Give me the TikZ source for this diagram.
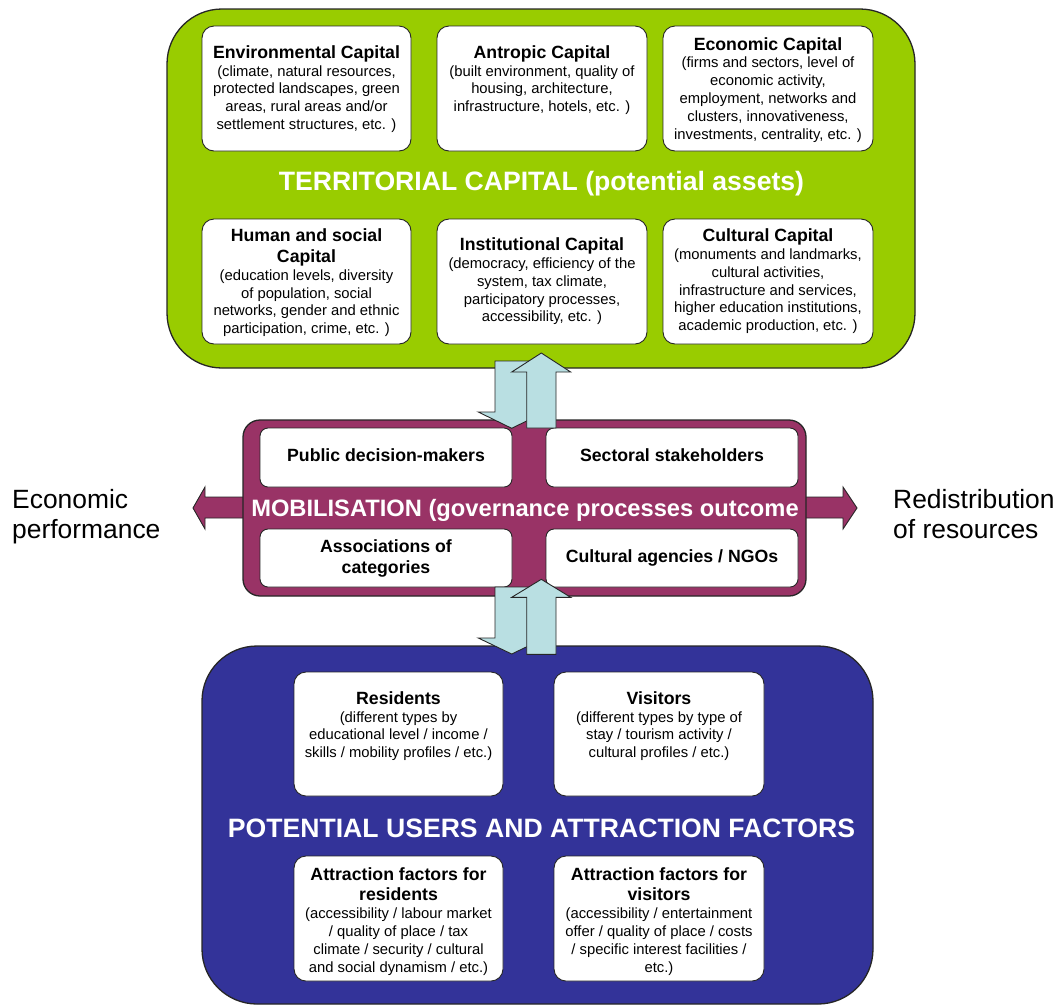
\documentclass[tikz,border=0pt]{standalone}
\usepackage{fontspec}
\setmainfont{Liberation Sans}
\definecolor{terrgreen}{HTML}{99CC00}
\definecolor{mobpurple}{HTML}{993366}
\definecolor{userblue}{HTML}{333399}
\definecolor{arrowblue}{HTML}{B9DFE2}
\begin{document}
\begin{tikzpicture}[x=1pt,y=-1pt,
  bigbox/.style={draw=black!85, line width=1.3pt, rounded corners=55pt, inner sep=0pt},
  mobbox/.style={draw=black!85, line width=1.3pt, rounded corners=17pt, fill=mobpurple, inner sep=0pt},
  card/.style={draw=black!85, line width=0.9pt, fill=white, rounded corners=12pt, inner sep=0pt},
  smallcard/.style={draw=black!85, line width=0.9pt, fill=white, rounded corners=8pt, inner sep=0pt},
  cardtext/.style={anchor=north, inner sep=0pt, align=center, text=black,
     font=\fontsize{14.8}{17.8}\selectfont},
  cardtitle/.style={font=\bfseries\fontsize{17.7}{21}\selectfont},
  bigtitle/.style={anchor=base, inner sep=0pt, text=white, font=\bfseries\fontsize{26.6}{30}\selectfont},
  sidetext/.style={anchor=north west, inner sep=0pt, align=left, text=black,
     font=\fontsize{26.4}{30}\selectfont},
  blockarrow/.style={draw=black!85, line width=0.9pt, fill=arrowblue, line join=miter},
  sidearrow/.style={draw=black!85, line width=0.9pt, fill=mobpurple, line join=miter}]
\useasboundingbox (0,0) rectangle (1060,1005);

% ---------- Territorial capital ----------
\node[bigbox, fill=terrgreen, minimum width=748pt, minimum height=359pt] (terr) at (541,188.5) {};
\node[bigtitle] (terrtitle) at (541.5,190.5) {TERRITORIAL CAPITAL (potential assets)};

\node[card, minimum width=209pt, minimum height=125pt] (env) at (306.5,88.5) {};
\node[cardtext] (envtext) at (306.5,45.3) {{\bfseries\fontsize{17.7}{21}\selectfont Environmental Capital}\\(climate, natural resources,\\protected landscapes, green\\areas, rural areas and/or\\settlement structures, etc. )};

\node[card, minimum width=210pt, minimum height=125pt] (antr) at (542,88.5) {};
\node[cardtext] (antrtext) at (542,45.3) {{\bfseries\fontsize{17.7}{21}\selectfont Antropic Capital}\\(built environment, quality of\\housing, architecture,\\infrastructure, hotels, etc. )};

\node[card, minimum width=210pt, minimum height=125pt] (econ) at (768,88.5) {};
\node[cardtext] (econtext) at (768,37) {{\bfseries\fontsize{17.7}{21}\selectfont Economic Capital}\\(firms and sectors, level of\\economic activity,\\employment, networks and\\clusters, innovativeness,\\investments, centrality, etc. )};

\node[card, minimum width=209pt, minimum height=125pt] (human) at (306.5,281.5) {};
\node[cardtext] (humantext) at (306.5,228.6) {{\bfseries\fontsize{17.7}{21}\selectfont Human and social}\\[3pt]{\bfseries\fontsize{17.7}{21}\selectfont Capital}\\(education levels, diversity\\of population, social\\networks, gender and ethnic\\participation, crime, etc. )};

\node[card, minimum width=210pt, minimum height=125pt] (inst) at (542,281.5) {};
\node[cardtext] (insttext) at (542,237.6) {{\bfseries\fontsize{17.7}{21}\selectfont Institutional Capital}\\(democracy, efficiency of the\\system, tax climate,\\participatory processes,\\accessibility, etc. )};

\node[card, minimum width=210pt, minimum height=125pt] (cult) at (768,281.5) {};
\node[cardtext] (culttext) at (768,228.6) {{\bfseries\fontsize{17.7}{21}\selectfont Cultural Capital}\\(monuments and landmarks,\\cultural activities,\\infrastructure and services,\\higher education institutions,\\academic production, etc. )};

% ---------- Potential users ----------
\node[bigbox, fill=userblue, minimum width=671pt, minimum height=358pt] (users) at (537.5,825) {};
\node[bigtitle] (userstitle) at (541.5,837.5) {POTENTIAL USERS AND ATTRACTION FACTORS};

\node[card, minimum width=209pt, minimum height=124pt] (res) at (398.5,734) {};
\node[cardtext] (restext) at (398.5,691.3) {{\bfseries\fontsize{17.7}{21}\selectfont Residents}\\(different types by\\educational level / income /\\skills / mobility profiles / etc.)};

\node[card, minimum width=210pt, minimum height=124pt] (vis) at (659,734) {};
\node[cardtext] (vistext) at (659,691.3) {{\bfseries\fontsize{17.7}{21}\selectfont Visitors}\\(different types by type of\\stay / tourism activity /\\cultural profiles / etc.)};

\node[card, minimum width=209pt, minimum height=125pt] (attres) at (398.5,918.5) {};
\node[cardtext] (attrestext) at (398.5,867) {{\bfseries\fontsize{17.7}{21}\selectfont Attraction factors for}\\[3pt]{\bfseries\fontsize{17.7}{21}\selectfont residents}\\(accessibility / labour market\\/ quality of place / tax\\climate / security / cultural\\and social dynamism / etc.)};

\node[card, minimum width=210pt, minimum height=125pt] (attvis) at (659,918.5) {};
\node[cardtext] (attvistext) at (659,867) {{\bfseries\fontsize{17.7}{21}\selectfont Attraction factors for}\\[3pt]{\bfseries\fontsize{17.7}{21}\selectfont visitors}\\(accessibility / entertainment\\offer / quality of place / costs\\/ specific interest facilities /\\etc.)};

% ---------- Side arrows ----------
\draw[sidearrow] (250,497) -- (205,497) -- (205,487) -- (193,508) -- (205,529) -- (205,518) -- (250,518) -- cycle;
\draw[sidearrow] (800,497) -- (843,497) -- (843,487) -- (857,508) -- (843,529) -- (843,518) -- (800,518) -- cycle;

\node[sidetext] (econperf) at (12,489) {Economic\\performance};
\node[sidetext] (redis) at (893,489) {Redistribution\\of resources};

% ---------- Mobilisation ----------
\node[mobbox, minimum width=563pt, minimum height=176pt] (mob) at (524.5,508) {};
\node[smallcard, minimum width=252pt, minimum height=59pt] (pub) at (386,457.5) {};
\node[smallcard, minimum width=252pt, minimum height=59pt] (sect) at (672,457.5) {};
\node[smallcard, minimum width=252pt, minimum height=58pt] (assoc) at (386,558) {};
\node[smallcard, minimum width=252pt, minimum height=58pt] (cultag) at (672,558) {};

\node[anchor=base, inner sep=0pt, cardtitle] (pubtext) at (386,461.3) {Public decision-makers};
\node[anchor=base, inner sep=0pt, cardtitle] (secttext) at (672,461.3) {Sectoral stakeholders};
\node[anchor=north, inner sep=0pt, align=center, font=\bfseries\fontsize{17.7}{20.7}\selectfont] (assoctext) at (386,539.6) {Associations of\\categories};
\node[anchor=base, inner sep=0pt, cardtitle] (cultagtext) at (672,562) {Cultural agencies / NGOs};

\node[anchor=base, inner sep=0pt, text=white, font=\bfseries\fontsize{23.7}{27}\selectfont] (mobtitle) at (525,516) {MOBILISATION (governance processes outcome};

% ---------- Vertical block arrows ----------
\draw[blockarrow] (495,361) -- (528.5,361) -- (528.5,412) -- (545,412) -- (511.7,428.3) -- (478.3,412) -- (495,412) -- cycle;
\draw[blockarrow] (526.7,428) -- (526.7,372) -- (511.7,372) -- (541.3,353) -- (570.7,372) -- (556,372) -- (556,428) -- cycle;

\draw[blockarrow] (495,587) -- (528.5,587) -- (528.5,638) -- (545,638) -- (511.7,654) -- (478.3,638) -- (495,638) -- cycle;
\draw[blockarrow] (526.7,654.3) -- (526.7,597.3) -- (511.7,597.3) -- (541.3,579.3) -- (570.7,597.3) -- (556,597.3) -- (556,654.3) -- cycle;
\end{tikzpicture}
\end{document}
